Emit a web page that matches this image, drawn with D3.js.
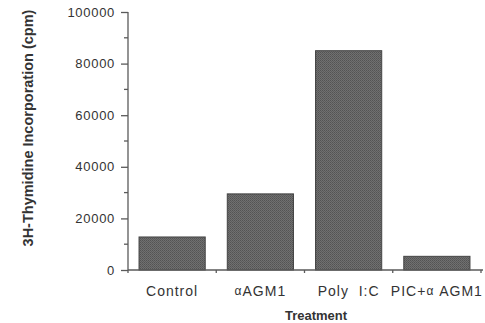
<!DOCTYPE html>
<html>
<head>
<meta charset="utf-8">
<script src="https://cdn.jsdelivr.net/npm/d3@7"></script>
<style>
  html, body { margin: 0; padding: 0; background: #fff; }
  svg { display: block; font-family: "Liberation Sans", Arial, sans-serif; }
</style>
</head>
<body>
<svg id="chart"></svg>
<script>
// data
const treatments = ["Control", "αAGM1", "Poly I:C", "PIC+α AGM1"];
const cpm = [12800, 29500, 85000, 5300];
const yTicks = [0, 20000, 40000, 60000, 80000, 100000];
const yMinorTicks = [10000, 30000, 50000, 70000, 90000];

const width = 485;
const height = 323;

const svg = d3.select("#chart")
              .attr("width", width)
              .attr("height", height);

// stipple texture for the bars
const pat = svg.append("defs").append("pattern")
               .attr("id", "stipple")
               .attr("width", 2).attr("height", 2)
               .attr("patternUnits", "userSpaceOnUse");
pat.append("rect").attr("width", 2).attr("height", 2).attr("fill", "#707070");
pat.append("rect").attr("width", 1).attr("height", 1).attr("fill", "#535353");
pat.append("rect").attr("x", 1).attr("y", 1).attr("width", 1).attr("height", 1).attr("fill", "#5c5c5c");

const x = d3.scaleBand(treatments, [128, 481]).paddingInner(0.25).paddingOuter(0.125);
const y = d3.scaleLinear([0, 100000], [270, 12]);

const axisColor = "#5a5a5a";
const textColor = "#333";

// bars
svg.append("g")
   .selectAll("rect")
   .data(treatments)
   .join("rect")
   .attr("x", d => x(d))
   .attr("y", (d, i) => y(cpm[i]))
   .attr("width", x.bandwidth())
   .attr("height", (d, i) => y(0) - y(cpm[i]))
   .attr("fill", "url(#stipple)")
   .attr("stroke", "#444")
   .attr("stroke-width", 1);

// y axis
const yAxis = svg.append("g")
                 .attr("transform", "translate(128,0)")
                 .call(d3.axisLeft(y).tickValues(yTicks).tickSize(7).tickPadding(6).tickFormat(d3.format("d")));
yAxis.select(".domain").attr("stroke", axisColor).attr("stroke-width", 1.3).attr("d", `M0,${y(100000)}V${y(0)}`);
yAxis.selectAll(".tick line").attr("stroke", axisColor).attr("stroke-width", 1.3);
yAxis.selectAll(".tick text")
     .attr("fill", textColor)
     .style("font-size", "13px")
     .style("letter-spacing", "0.7px");
yAxis.append("g")
     .selectAll("line")
     .data(yMinorTicks)
     .join("line")
     .attr("x1", -4).attr("x2", 0)
     .attr("y1", d => y(d)).attr("y2", d => y(d))
     .attr("stroke", axisColor).attr("stroke-width", 1.3);

// x axis, ticks at band edges
const edges = treatments.map(d => x(d) - x.step() * x.paddingInner() / 2);
edges.push(481);
const xAxis = svg.append("g").attr("transform", `translate(0,${y(0)})`);
xAxis.append("line")
     .attr("x1", 128).attr("x2", 483)
     .attr("stroke", axisColor).attr("stroke-width", 1.3);
xAxis.selectAll("line.edge")
     .data(edges)
     .join("line")
     .attr("class", "edge")
     .attr("x1", d => d).attr("x2", d => d)
     .attr("y1", 0).attr("y2", 3)
     .attr("stroke", axisColor).attr("stroke-width", 1.3);

// category labels, alpha set smaller
const labels = xAxis.selectAll("text")
                    .data(treatments)
                    .join("text")
                    .attr("x", d => x(d) + x.bandwidth() / 2)
                    .attr("y", 26)
                    .attr("text-anchor", "middle")
                    .attr("xml:space", "preserve")
                    .attr("fill", textColor)
                    .style("font-size", "14px")
                    .style("letter-spacing", "1px");
labels.each(function(d) {
	const t = d3.select(this);
	const parts = d.split("α");
	if (parts.length === 1) {
		t.text(d.replace(" ", "  "));
		return;
	}
	t.append("tspan").text(parts[0]);
	t.append("tspan").text("α").style("font-size", "12px").attr("dy", -1);
	t.append("tspan").text(parts[1]).attr("dy", 1);
});

// axis titles
svg.append("text")
   .attr("x", 316)
   .attr("y", 320)
   .attr("text-anchor", "middle")
   .attr("fill", textColor)
   .style("font-size", "13px")
   .style("font-weight", "bold")
   .text("Treatment");

svg.append("text")
   .attr("transform", "translate(33,128) rotate(-90)")
   .attr("text-anchor", "middle")
   .attr("fill", textColor)
   .style("font-size", "14.5px")
   .style("font-weight", "bold")
   .text("3H-Thymidine Incorporation (cpm)");
</script>
</body>
</html>
